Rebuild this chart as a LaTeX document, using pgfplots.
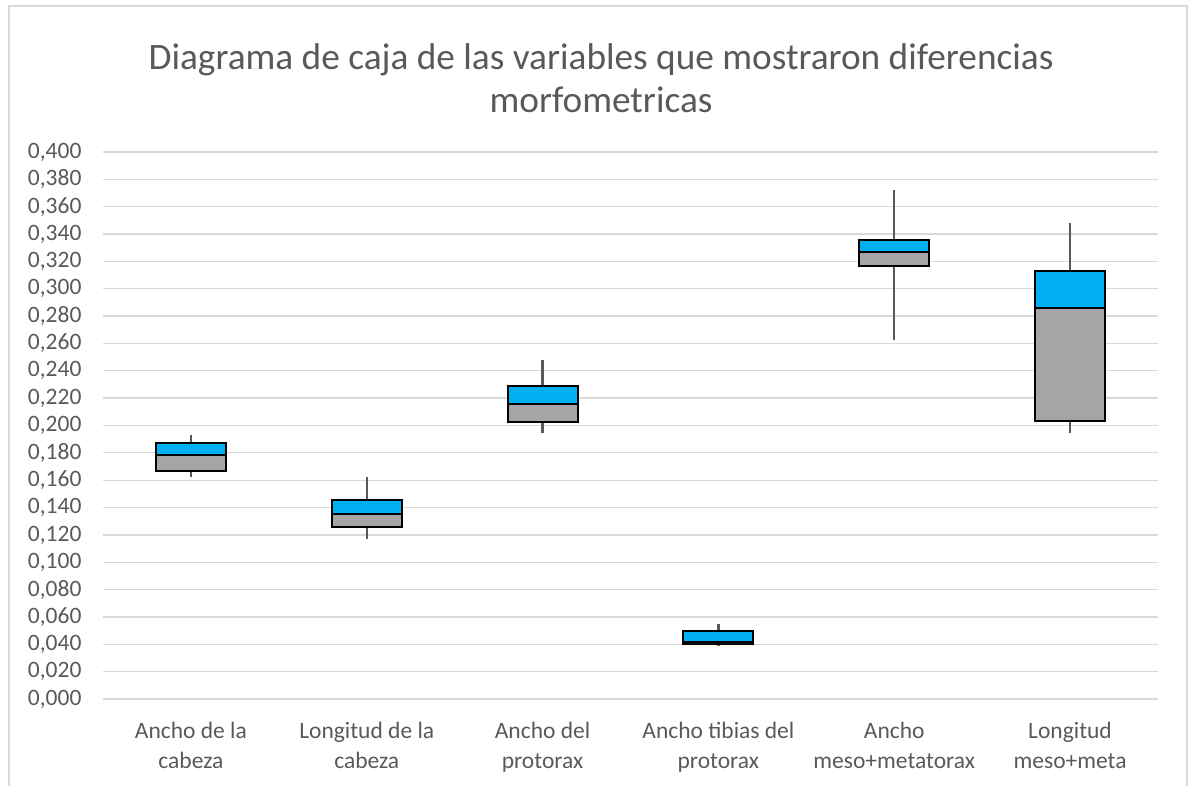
\documentclass[border=0pt]{standalone}
\usepackage{fontspec}
\setmainfont{Carlito}
\usepackage{pgfplots}
\usepackage{pgfplotstable}
\pgfplotsset{compat=1.18}
\definecolor{txtgray}{HTML}{595959}
\definecolor{gridgray}{HTML}{D9D9D9}
\definecolor{boxblue}{HTML}{00B0F0}
\definecolor{boxgray}{HTML}{A5A5A5}
\definecolor{whisk}{HTML}{595959}

% x, lower whisker, Q1, median, Q3, upper whisker
\pgfplotstableread{
x  lw     q1     med    q3     uw
0  0.1621 0.1667 0.1782 0.1872 0.1930
1  0.1170 0.1258 0.1355 0.1453 0.1626
2  0.1943 0.2026 0.2157 0.2291 0.2477
3  0.0385 0.0404 0.0417 0.0497 0.0546
4  0.2623 0.3169 0.3271 0.3357 0.3720
5  0.1945 0.2031 0.2862 0.3128 0.3478
}\datatable

\pgfplotsset{
  common/.style={
    at={(103pt,87pt)}, anchor=south west,
    scale only axis, width=1055pt, height=547pt,
    xmin=-0.5, xmax=5.5, ymin=0, ymax=0.4,
    axis line style={draw=none},
    tick style={draw=none},
  }
}

\begin{document}
\begin{tikzpicture}[x=1pt,y=1pt]
\useasboundingbox (0,0) rectangle (1190,786);
\draw[gridgray, line width=1.2pt] (9,-5) -- (9,780) -- (1187,780) -- (1187,-5);

\node[text=txtgray, font=\fontsize{37.3}{43}\selectfont, align=center] at (601,708)
  {Diagrama de caja de las variables que mostraron diferencias\\morfometricas};

\begin{axis}[common,
  ytick={0,0.02,...,0.401},
  ymajorgrids, grid style={gridgray, line width=1.3pt},
  xtick={0,1,2,3,4,5},
  xticklabels={{Ancho de la\\cabeza},{Longitud de la\\cabeza},{Ancho del\\protorax},{Ancho tibias del\\protorax},{Ancho\\meso+metatorax},{Longitud\\meso+meta}},
  xticklabel style={align=center, text=txtgray, font=\fontsize{23.5}{30}\selectfont, yshift=-20pt},
  yticklabel style={text=txtgray, font=\fontsize{23.5}{28}\selectfont, xshift=-18pt},
  /pgf/number format/.cd, fixed, fixed zerofill, precision=3, use comma, assume math mode=true,
]
\addplot[draw=none, mark=none,
  error bars/.cd, y dir=both, y explicit,
  error mark=none, error bar style={whisk, line width=2.2pt}]
  table[x=x, y=med, y error plus expr=\thisrow{uw}-\thisrow{med}, y error minus expr=\thisrow{med}-\thisrow{lw}] {\datatable};
\end{axis}

\begin{axis}[common, ybar stacked, bar width=70pt,
  xtick=\empty, ytick=\empty]
\addplot[draw=none, fill=none] table[x=x, y=q1] {\datatable};
\addplot[draw=black, line width=2pt, fill=boxgray] table[x=x, y expr=\thisrow{med}-\thisrow{q1}] {\datatable};
\addplot[draw=black, line width=2pt, fill=boxblue] table[x=x, y expr=\thisrow{q3}-\thisrow{med}] {\datatable};
\end{axis}
\end{tikzpicture}
\end{document}
